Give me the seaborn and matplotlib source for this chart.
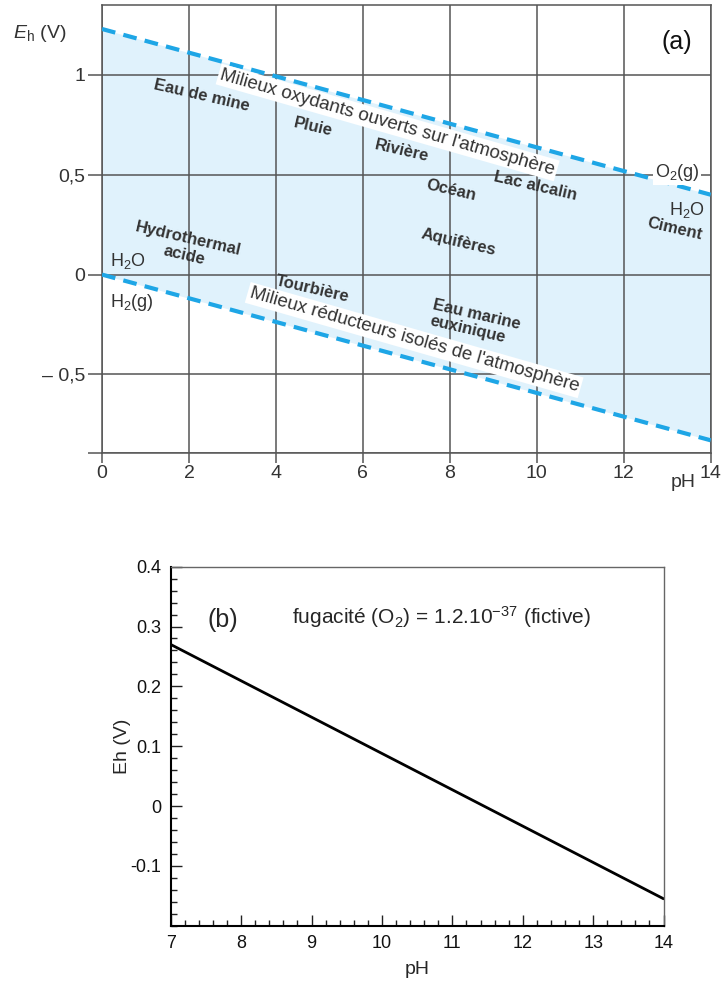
import numpy as np
import matplotlib
matplotlib.use("Agg")
import matplotlib.pyplot as plt
from matplotlib.ticker import MultipleLocator
import seaborn as sns

# Data - panel (a) : domaine de stabilite de l'eau
ph_a = [0, 14]
eh_o2 = [1.23, 0.40]      # limite O2(g) / H2O
eh_h2 = [0.0, -0.83]      # limite H2O / H2(g)

# milieux naturels (noms + position pH / Eh)
milieux = ["Eau de mine", "Pluie", "Rivière", "Océan", "Lac alcalin", "Ciment",
           "Aquifères", "Hydrothermal\nacide", "Tourbière", "Eau marine\neuxinique"]
milieux_ph = [2.29, 4.86, 6.89, 8.04, 9.96, 13.18, 8.2, 1.93, 4.85, 7.58]
milieux_eh = [0.897, 0.737, 0.62, 0.42, 0.445, 0.228, 0.164, 0.138, -0.073, -0.19]

a_xticks = [0, 2, 4, 6, 8, 10, 12, 14]
a_yticks = [-0.5, 0, 0.5, 1]
a_yticklabels = ["– 0,5", "0", "0,5", "1"]

# Data - panel (b) : fugacite O2 fictive
ph_b = [7, 14]
eh_b = [0.27, -0.155]
b_yticks = [-0.1, 0, 0.1, 0.2, 0.3, 0.4]
b_yticklabels = ["-0.1", "0", "0.1", "0.2", "0.3", "0.4"]
b_xticks = [7, 8, 9, 10, 11, 12, 13, 14]

sns.set_style("white")
plt.rcParams['font.family'] = ['Liberation Sans', 'DejaVu Sans']
plt.rcParams['mathtext.fontset'] = 'custom'
plt.rcParams['mathtext.rm'] = 'Liberation Sans'
plt.rcParams['mathtext.it'] = 'Liberation Sans:italic'

txt = '#333333'
blue = '#1ea6e6'
grid_c = '#555555'

fig = plt.figure(figsize=(7.23, 9.85), dpi=100)

# ---------------- panel (a)
ax = fig.add_axes([0.1411, 0.5398, 0.8419, 0.4551])
ax.fill_between(ph_a, eh_h2, eh_o2, color='#e0f2fc', lw=0, zorder=0)
sns.lineplot(x=ph_a, y=eh_o2, ax=ax, color=blue, lw=3, zorder=3)
sns.lineplot(x=ph_a, y=eh_h2, ax=ax, color=blue, lw=3, zorder=3)
for ln in ax.lines:
    ln.set_dashes((3.3, 2.0))
ax.set_xlim(0, 14)
ax.set_ylim(-0.895, 1.35)
ax.set_xticks(a_xticks)
ax.set_yticks(a_yticks + [-0.895])
ax.set_yticklabels(a_yticklabels + [""])
ax.set_axisbelow(True)
ax.grid(True, color=grid_c, lw=1.1)
ax.tick_params(axis='y', left=True, direction='out', length=10, width=1.1, color=grid_c,
               labelsize=14, labelcolor=txt, pad=2)
ax.tick_params(axis='x', bottom=True, direction='out', length=7, width=1.1, color=grid_c,
               labelsize=14, labelcolor=txt, pad=1.5)
for s in ax.spines.values():
    s.set_color(grid_c)
    s.set_linewidth(1.1)

for name, x, y in zip(milieux, milieux_ph, milieux_eh):
    ha = 'left' if name.startswith("Eau marine") else 'center'
    ax.text(x, y, name, fontsize=12, fontweight='bold', color=txt,
            rotation=-13, ha=ha, va='center', multialignment=ha,
            rotation_mode='anchor', zorder=5, linespacing=1.1)

box = dict(boxstyle='square,pad=0.12', fc='white', ec='none')
ax.text(6.57, 0.762, "Milieux oxydants ouverts sur l'atmosphère", fontsize=13.5,
        color=txt, rotation=-16, ha='center', va='center',
        rotation_mode='anchor', bbox=box, zorder=6)
ax.text(7.18, -0.328, "Milieux réducteurs isolés de l'atmosphère", fontsize=13.5,
        color=txt, rotation=-16, ha='center', va='center',
        rotation_mode='anchor', bbox=box, zorder=6)
ax.text(12.72, 0.509, "O$_2$(g)", fontsize=13, color=txt, ha='left', va='center',
        bbox=dict(boxstyle='square,pad=0.1', fc='white', ec='none'), zorder=6)
ax.text(13.45, 0.323, "H$_2$O", fontsize=13, color=txt, ha='center', va='center', zorder=6)
ax.text(0.18, 0.068, "H$_2$O", fontsize=13, color=txt, ha='left', va='center', zorder=6)
ax.text(0.18, -0.138, "H$_2$(g)", fontsize=13, color=txt, ha='left', va='center', zorder=6)
ax.text(13.22, 1.163, "(a)", fontsize=18, color='#111111', ha='center', va='center')
ax.text(-0.146, 0.9375, "$E_\\mathrm{h}$ (V)", transform=ax.transAxes, fontsize=14,
        color=txt, ha='left', va='center')
ax.text(0.954, -0.065, "pH", transform=ax.transAxes, fontsize=14, color=txt,
        ha='center', va='center')

# ---------------- panel (b)
bx = fig.add_axes([0.2361, 0.0602, 0.6817, 0.3645])
sns.lineplot(x=ph_b, y=eh_b, ax=bx, color='black', lw=2)
bx.set_xlim(7, 14)
bx.set_ylim(-0.2, 0.4)
bx.set_xticks(b_xticks)
bx.set_yticks(b_yticks)
bx.set_yticklabels(b_yticklabels)
bx.xaxis.set_minor_locator(MultipleLocator(0.2))
bx.yaxis.set_minor_locator(MultipleLocator(0.02))
bx.tick_params(which='major', direction='in', length=8, width=1, color='#222222',
               labelsize=13, labelcolor='#111111', pad=7)
bx.tick_params(which='minor', direction='in', length=4.3, width=1, color='#222222')
bx.tick_params(which='both', bottom=True, left=True, top=False, right=False)
for side in ['left', 'bottom']:
    bx.spines[side].set_color('black')
    bx.spines[side].set_linewidth(1.5)
for side in ['top', 'right']:
    bx.spines[side].set_color('#666666')
    bx.spines[side].set_linewidth(1)
bx.set_xlabel("pH", fontsize=14, labelpad=6)
bx.set_ylabel("Eh (V)", fontsize=14, labelpad=-1)
bx.text(7.74, 0.311, "(b)", fontsize=18, ha='center', va='center')
bx.text(10.84, 0.316, "fugacité (O$_2$) = 1.2.10$^{-37}$ (fictive)", fontsize=15,
        ha='center', va='center')

fig.savefig("out.png", dpi=100)
